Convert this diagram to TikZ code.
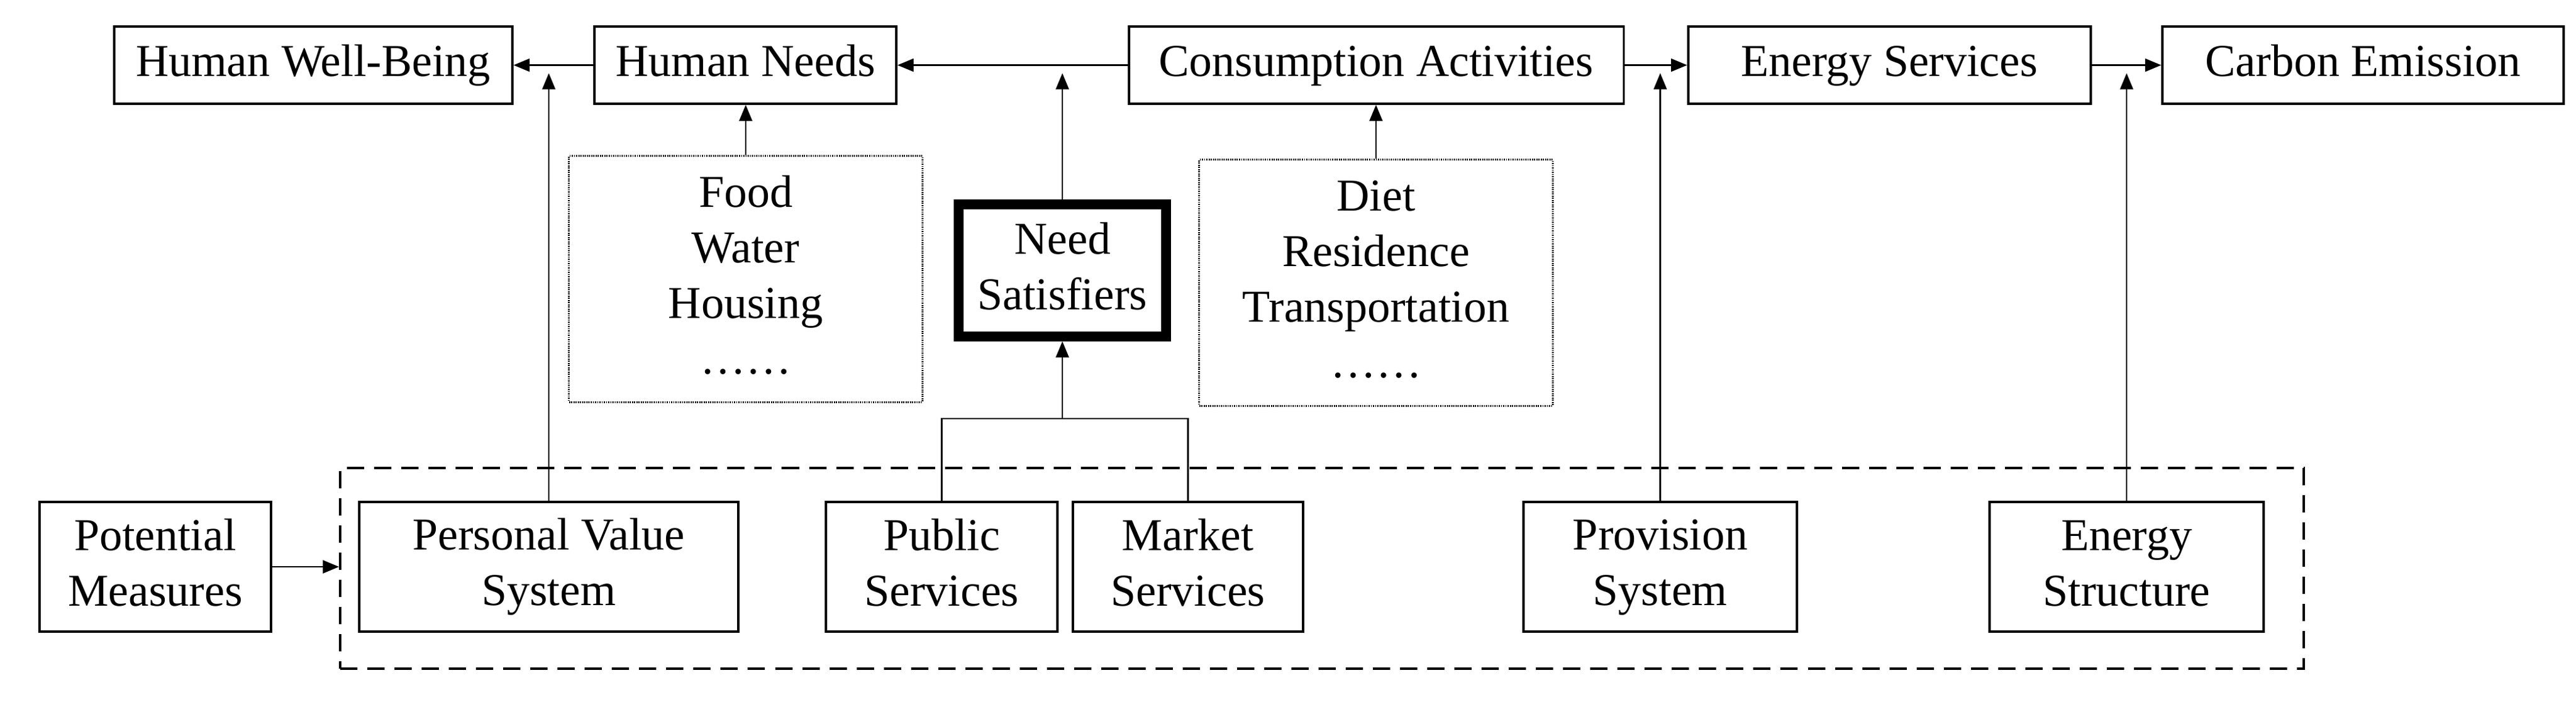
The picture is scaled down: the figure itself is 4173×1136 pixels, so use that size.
\documentclass[tikz,border=0pt]{standalone}
\usepackage{fontspec}
\setmainfont{Liberation Serif}
\usetikzlibrary{arrows.meta}
\newcommand\mfont{\fontsize{21pt}{25.6pt}\selectfont}
\newcommand\bstrut{\rule[-0.2em]{0pt}{0.9em}}
\tikzset{
  box/.style={draw, line width=1pt, inner sep=0pt, align=center, font=\mfont},
  topbox/.style={box, minimum height=1.25cm},
  botbox/.style={box, minimum height=2.10cm},
  dotbox/.style={box, line width=0.8pt, dash pattern=on 0.5pt off 0.5pt, minimum width=5.72cm, minimum height=3.98cm},
  thickbox/.style={box, line width=0.155cm, minimum width=3.36cm, minimum height=2.14cm},
  sysbox/.style={draw, line width=1.1pt, dash pattern=on 0.28cm off 0.16cm, inner sep=0pt},
  conn/.style={line width=0.65pt},
  arr/.style={conn, -{Triangle[length=0.26cm,width=0.21cm]}},
}
\begin{document}
\begin{tikzpicture}[x=0.01cm, y=-0.01cm]
\useasboundingbox (0,0) rectangle (4173,1136);
% top row
\node[topbox, minimum width=6.45cm] (hwb) at (507.5,105.5) {\bstrut Human Well-Being};
\node[topbox, minimum width=4.89cm] (hn) at (1207.5,105.5) {\bstrut Human Needs};
\node[topbox, minimum width=8.01cm] (ca) at (2229.5,105.5) {\bstrut Consumption Activities};
\node[topbox, minimum width=6.52cm] (es) at (3061,105.5) {\bstrut Energy Services};
\node[topbox, minimum width=6.50cm] (ce) at (3828,105.5) {\bstrut Carbon Emission};
% middle row
\node[dotbox] (food) at (1208,452) {\bstrut Food\\\bstrut Water\\\bstrut Housing\\\bstrut ……};
\node[thickbox] (ns) at (1721,438) {\bstrut Need\\\bstrut Satisfiers};
\node[dotbox] (diet) at (2229,458) {\bstrut Diet\\\bstrut Residence\\\bstrut Transportation\\\bstrut ……};
% system frame
\node[sysbox, minimum width=31.79cm, minimum height=3.25cm] (sys) at (2141.5,920.5) {};
% bottom row
\node[botbox, minimum width=3.75cm] (pm) at (251.5,918) {\bstrut Potential\\\bstrut Measures};
\node[botbox, minimum width=6.14cm] (pvs) at (889,918) {\bstrut Personal Value\\\bstrut System};
\node[botbox, minimum width=3.75cm] (pub) at (1525.5,918) {\bstrut Public\\\bstrut Services};
\node[botbox, minimum width=3.73cm] (mkt) at (1924.5,918) {\bstrut Market\\\bstrut Services};
\node[botbox, minimum width=4.43cm] (prov) at (2689.5,918) {\bstrut Provision\\\bstrut System};
\node[botbox, minimum width=4.44cm] (est) at (3445,918) {\bstrut Energy\\\bstrut Structure};
% top horizontal arrows
\draw[arr] (hn.west) -- (hwb.east);
\draw[arr] (ca.west) -- (hn.east);
\draw[arr] (ca.east) -- (es.west);
\draw[arr] (es.east) -- (ce.west);
% list boxes to top
\draw[arr] (food.north) -- (food.north |- hn.south);
\draw[arr] (diet.north) -- (diet.north |- ca.south);
% vertical arrows into top lines
\draw[arr, shorten >=0.13cm] (pvs.north) -- (pvs.north |- hn.west);
\draw[arr, shorten >=0.13cm] (ns.north) -- (ns.north |- ca.west);
\draw[arr, shorten >=0.13cm] (prov.north) -- (prov.north |- es.west);
\draw[arr, shorten >=0.13cm] (est.north) -- (est.north |- ce.west);
% services to need satisfiers
\coordinate (br) at (1721,678);
\draw[conn] (pub.north) |- (br) -| (mkt.north);
\draw[arr] (br) -- (ns.south);
% potential measures to system
\draw[arr] (pm.east) -- (pm.east -| sys.west);
\end{tikzpicture}
\end{document}
